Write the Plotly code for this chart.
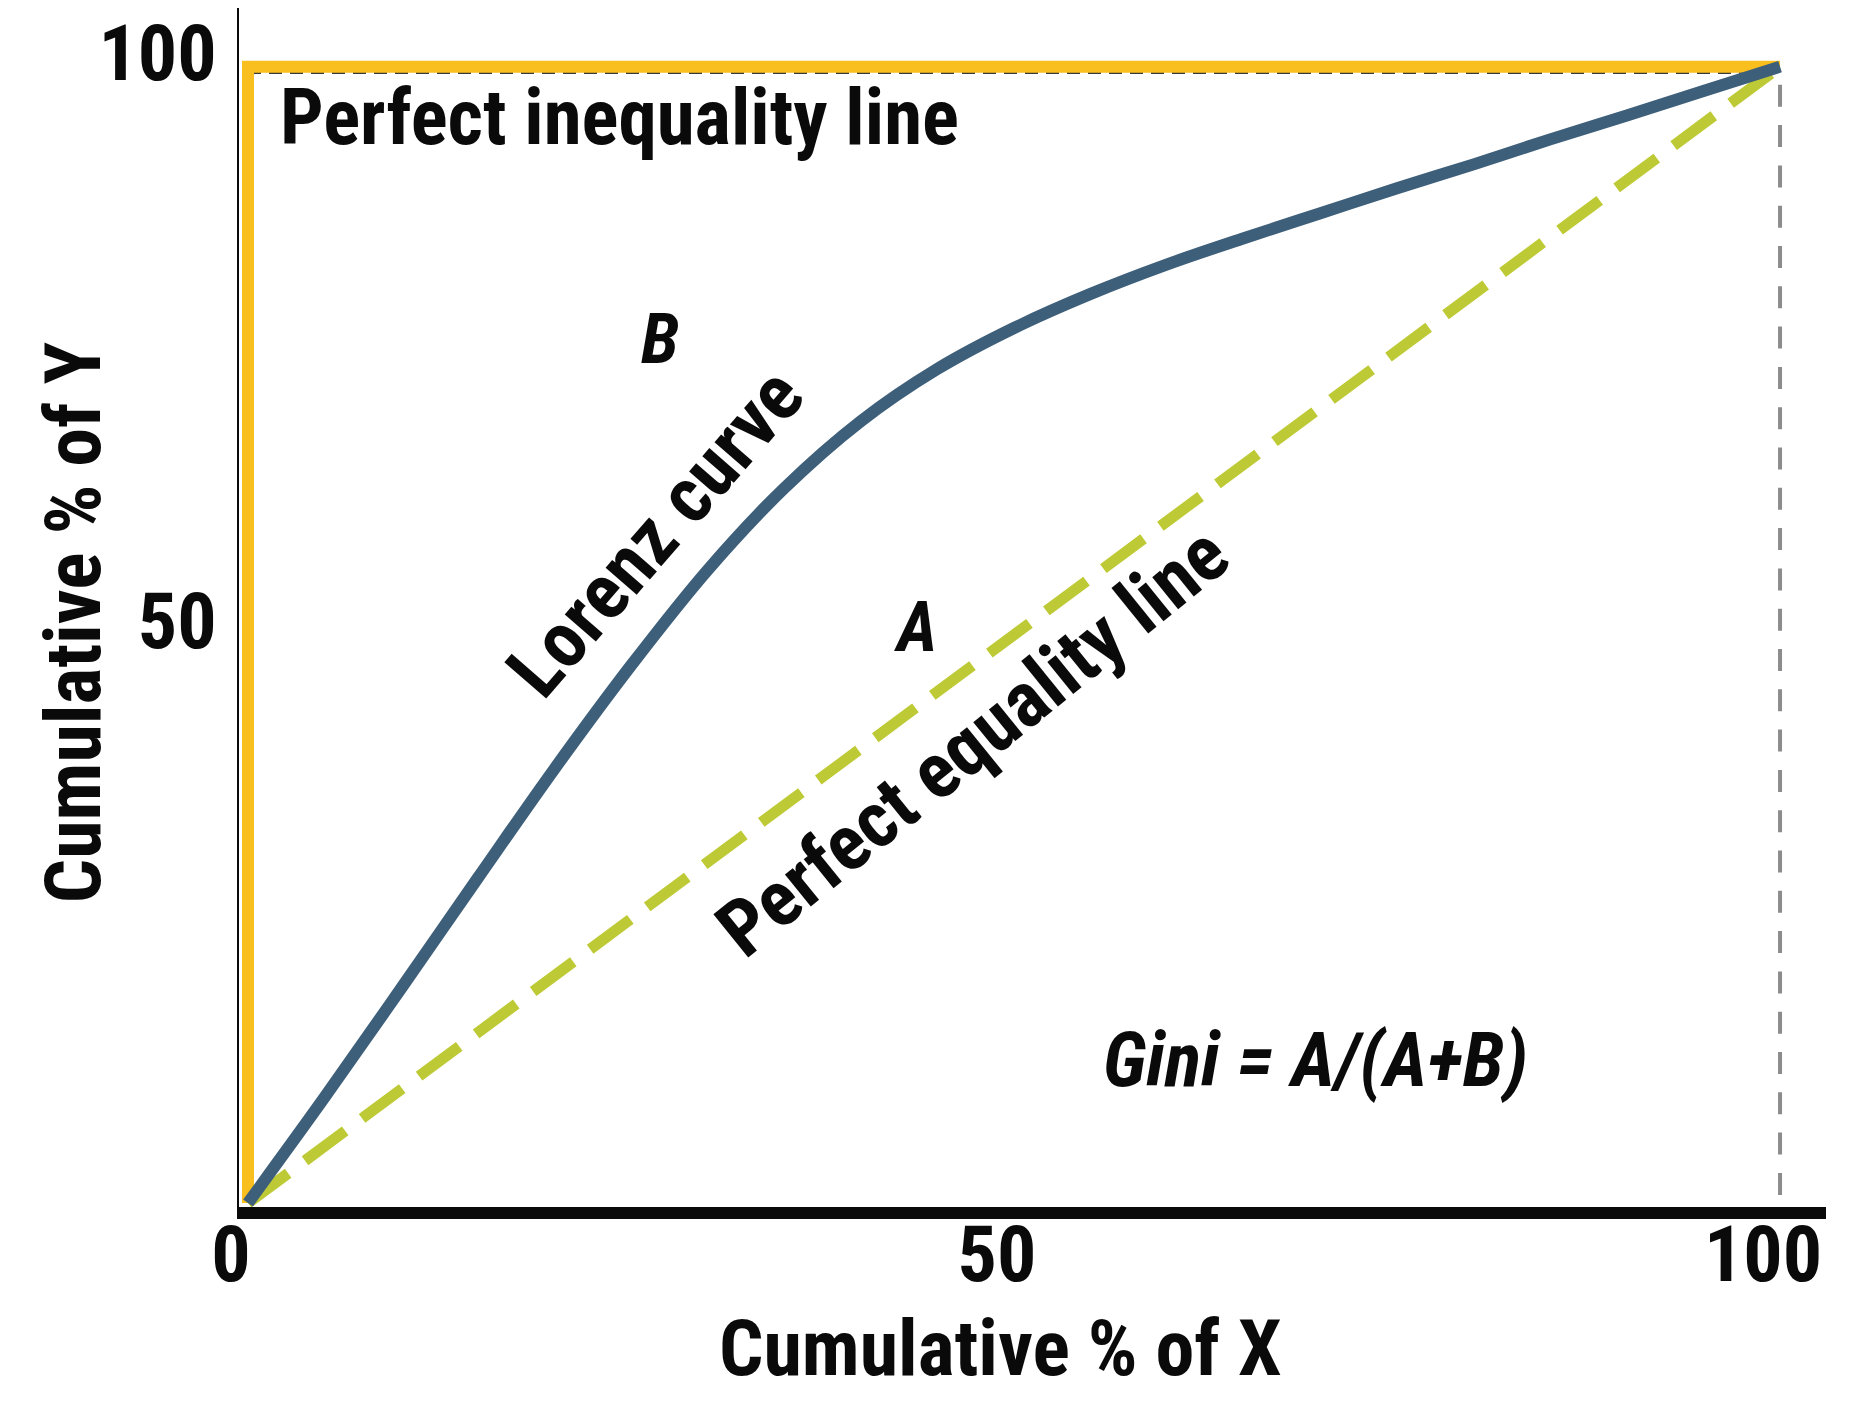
import plotly.graph_objects as go

# ---- data ----
lorenz_x = [0, 5, 10, 15, 20, 25, 30, 35, 40, 45, 50, 55, 60, 65, 70, 75, 80, 85, 90, 95, 100]
lorenz_y = [0, 9.3, 18.9, 28.6, 38.2, 47.3, 55.7, 62.9, 68.8, 73.4, 77.0, 80.0, 82.6, 84.9, 87.1, 89.3, 91.4, 93.6, 95.7, 97.85, 100]
equality_x = [0, 100]
equality_y = [0, 100]
inequality_x = [0, 0, 100]
inequality_y = [0, 100, 100]
guide_x = [100, 100]
guide_y = [98.4, 0]
top_guide_x = [0, 100]
top_guide_y = [99.43, 99.43]
x_tick_vals = [0, 50, 100]
x_tick_text = ["0", "50", "100"]
y_tick_vals = [50, 100]
y_tick_text = ["50", "100"]

FONT = "Roboto Condensed, Liberation Sans, Arial, sans-serif"
BLACK = "#0a0a0a"

fig = go.Figure()
fig.add_trace(go.Scatter(x=top_guide_x, y=top_guide_y, mode="lines",
                         line=dict(color="#3a3a3a", width=2, dash="13px,8px"), hoverinfo="skip"))
fig.add_trace(go.Scatter(x=guide_x, y=guide_y, mode="lines",
                         line=dict(color="#8c8c8c", width=4, dash="22px,18.3px"), hoverinfo="skip"))
fig.add_trace(go.Scatter(x=inequality_x, y=inequality_y, mode="lines",
                         line=dict(color="#F8BF1E", width=12), hoverinfo="skip"))
fig.add_trace(go.Scatter(x=equality_x, y=equality_y, mode="lines",
                         line=dict(color="#BECA35", width=11, dash="50px,21px"), hoverinfo="skip"))
fig.add_trace(go.Scatter(x=lorenz_x, y=lorenz_y, mode="lines",
                         line=dict(color="#3E5F7A", width=12, shape="spline", smoothing=1),
                         hoverinfo="skip"))

def txt(text, x, y, size=78, angle=0, italic=False, xanchor="center", xref="x", yref="y"):
    fig.add_annotation(x=x, y=y, xref=xref, yref=yref, text=text, showarrow=False,
                       textangle=angle, xanchor=xanchor, yanchor="middle",
                       font=dict(family=FONT, size=size, color=BLACK, weight="bold",
                                 style="italic" if italic else "normal"))

txt("Perfect inequality line", 1.96, 95.5, size=77, xanchor="left")
txt("B", 26.9, 76.0, size=70, italic=True)
txt("Lorenz curve", 26.6, 59.0, angle=-49)
txt("A", 43.6, 50.7, size=70, italic=True)
txt("Perfect equality line", 47.3, 40.6, angle=-39)
txt("Gini = A/(A+B)", 69.7, 12.6, size=76, italic=True)
txt("Cumulative % of X", 0.480, -0.1184, xref="paper", yref="paper")
txt("Cumulative % of Y", -0.1045, 0.4870, angle=-90, xref="paper", yref="paper")

fig.update_layout(
    width=1864, height=1428,
    margin=dict(l=231, r=46, t=0, b=229, pad=0),
    paper_bgcolor="white", plot_bgcolor="white",
    showlegend=False,
    xaxis=dict(range=[-0.5875, 103.0], tickvals=x_tick_vals, ticktext=x_tick_text,
               automargin=False,
               showgrid=False, zeroline=False, showline=True, linecolor=BLACK, linewidth=12,
               ticks="", ticklabelshift=-17, ticklabelstandoff=-32,
               tickfont=dict(family=FONT, size=78, color=BLACK, weight="bold")),
    yaxis=dict(range=[-0.35, 105.16], tickvals=y_tick_vals, ticktext=y_tick_text,
               automargin=False,
               showgrid=False, zeroline=False, showline=True, linecolor=BLACK, linewidth=1.5,
               ticks="", ticklabelshift=-14, ticklabelstandoff=5,
               ticklabeloverflow="allow",
               tickfont=dict(family=FONT, size=78, color=BLACK, weight="bold")),
)

fig.write_html("out.html")
